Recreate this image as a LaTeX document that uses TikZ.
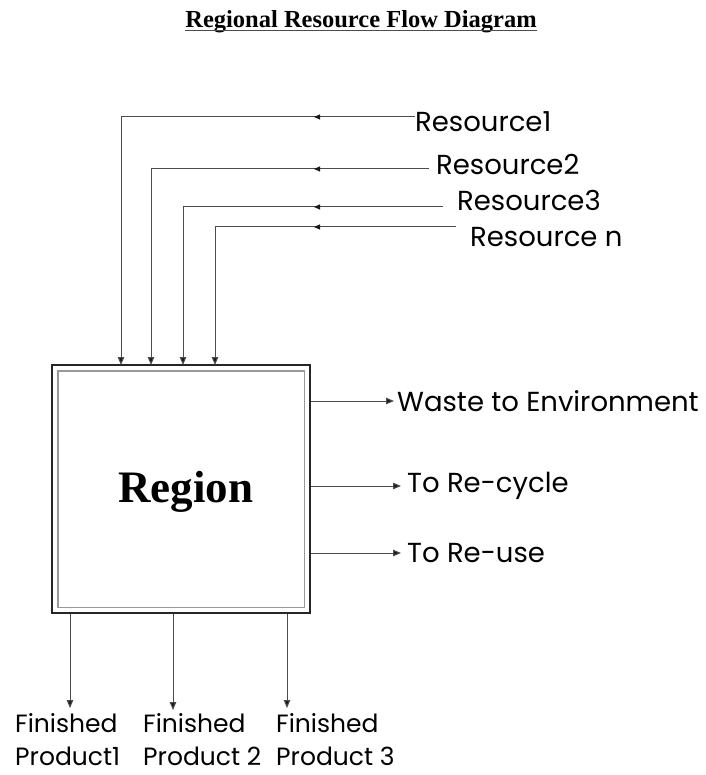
\documentclass[tikz,border=0pt]{standalone}
\usepackage{fontspec}
\setmainfont{Liberation Serif}
\newfontfamily\gothic{Poppins}
\usetikzlibrary{arrows.meta,positioning,decorations.markings}

\begin{document}
\begin{tikzpicture}[x=1pt, y=-1pt,
    % --- Text styles ---
    heading/.style={font=\bfseries\fontsize{24.5}{30}\selectfont, inner sep=0pt},
    regiontext/.style={font=\bfseries\fontsize{45}{50}\selectfont, inner sep=0pt},
    flowlabel/.style={font=\gothic\fontsize{27.5}{35}\selectfont, inner sep=0pt, anchor=west},
    productlabel/.style={flowlabel, font=\gothic\fontsize{25}{33}\selectfont, anchor=north west, align=left},
    % --- Line styles ---
    flow/.style={draw, line width=1pt, black!70, -{Triangle[length=8pt, width=6.5pt, fill=black!90]}},
    midarrow/.style={postaction={decorate}, decoration={markings,
        mark=at position #1 with {\arrow[black!90]{Triangle[length=6pt, width=5pt]}}}},
    regionbox/.style={draw, line width=2.6pt, black!85, minimum width=258pt, minimum height=248pt},
]
\useasboundingbox (0,0) rectangle (705,775);

% === Title ===
\node[heading] (title) at (361,22) {Regional Resource Flow Diagram};
\draw[line width=1.3pt, black!70] ([yshift=-2.5pt]title.base west) -- ([yshift=-2.5pt]title.base east);

% === The region ===
\node[regionbox] (region) at (181,489) {};
\draw[line width=1.6pt, black!40] ([shift={(7,7)}]region.north west) rectangle ([shift={(-7,-7)}]region.south east);
\node[regiontext] (regionname) at ([shift={(5,3)}]region.center) {Region};

% === Resources coming in ===
\node[flowlabel] (res1) at (415,122) {Resource1};
\node[flowlabel] (res2) at (436,165) {Resource2};
\node[flowlabel] (res3) at (457,200) {Resource3};
\node[flowlabel] (resn) at (470,237) {Resource n};

\coordinate (r1) at (415,117);
\coordinate (r2) at (429,169);
\coordinate (r3) at (443,207);
\coordinate (rn) at (456,227);

\coordinate (in1) at (121,365);
\coordinate (in2) at (151,365);
\coordinate (in3) at (183,365);
\coordinate (inn) at (215,365);

\draw[flow, midarrow=101pt] (r1) -| (in1);
\draw[flow, midarrow=115pt] (r2) -| (in2);
\draw[flow, midarrow=129pt] (r3) -| (in3);
\draw[flow, midarrow=142pt] (rn) -| (inn);

% === Outputs on the right ===
\node[flowlabel] (waste) at (397,401) {Waste to Environment};
\node[flowlabel] (recycle) at (407,486) {To Re-cycle};
\node[flowlabel] (reuse) at (407,553) {To Re-use};

\draw[flow] (region.east |- waste.west) -- ([xshift=-3pt]waste.west);
\draw[flow] (region.east |- recycle.west) -- ([xshift=-6pt]recycle.west);
\draw[flow] (region.east |- reuse.west) -- ([xshift=-6pt]reuse.west);

% === Finished products below ===
\coordinate (f1) at (70,708);
\coordinate (f2) at (173,710);
\coordinate (f3) at (287,708);

\draw[flow] (region.south -| f1) -- (f1);
\draw[flow] (region.south -| f2) -- (f2);
\draw[flow] (region.south -| f3) -- (f3);

\node[productlabel] (prod1) at (15,713) {Finished\\Product1};
\node[productlabel] (prod2) at (143,713) {Finished\\Product 2};
\node[productlabel] (prod3) at (276,713) {Finished\\Product 3};

\end{tikzpicture}
\end{document}
